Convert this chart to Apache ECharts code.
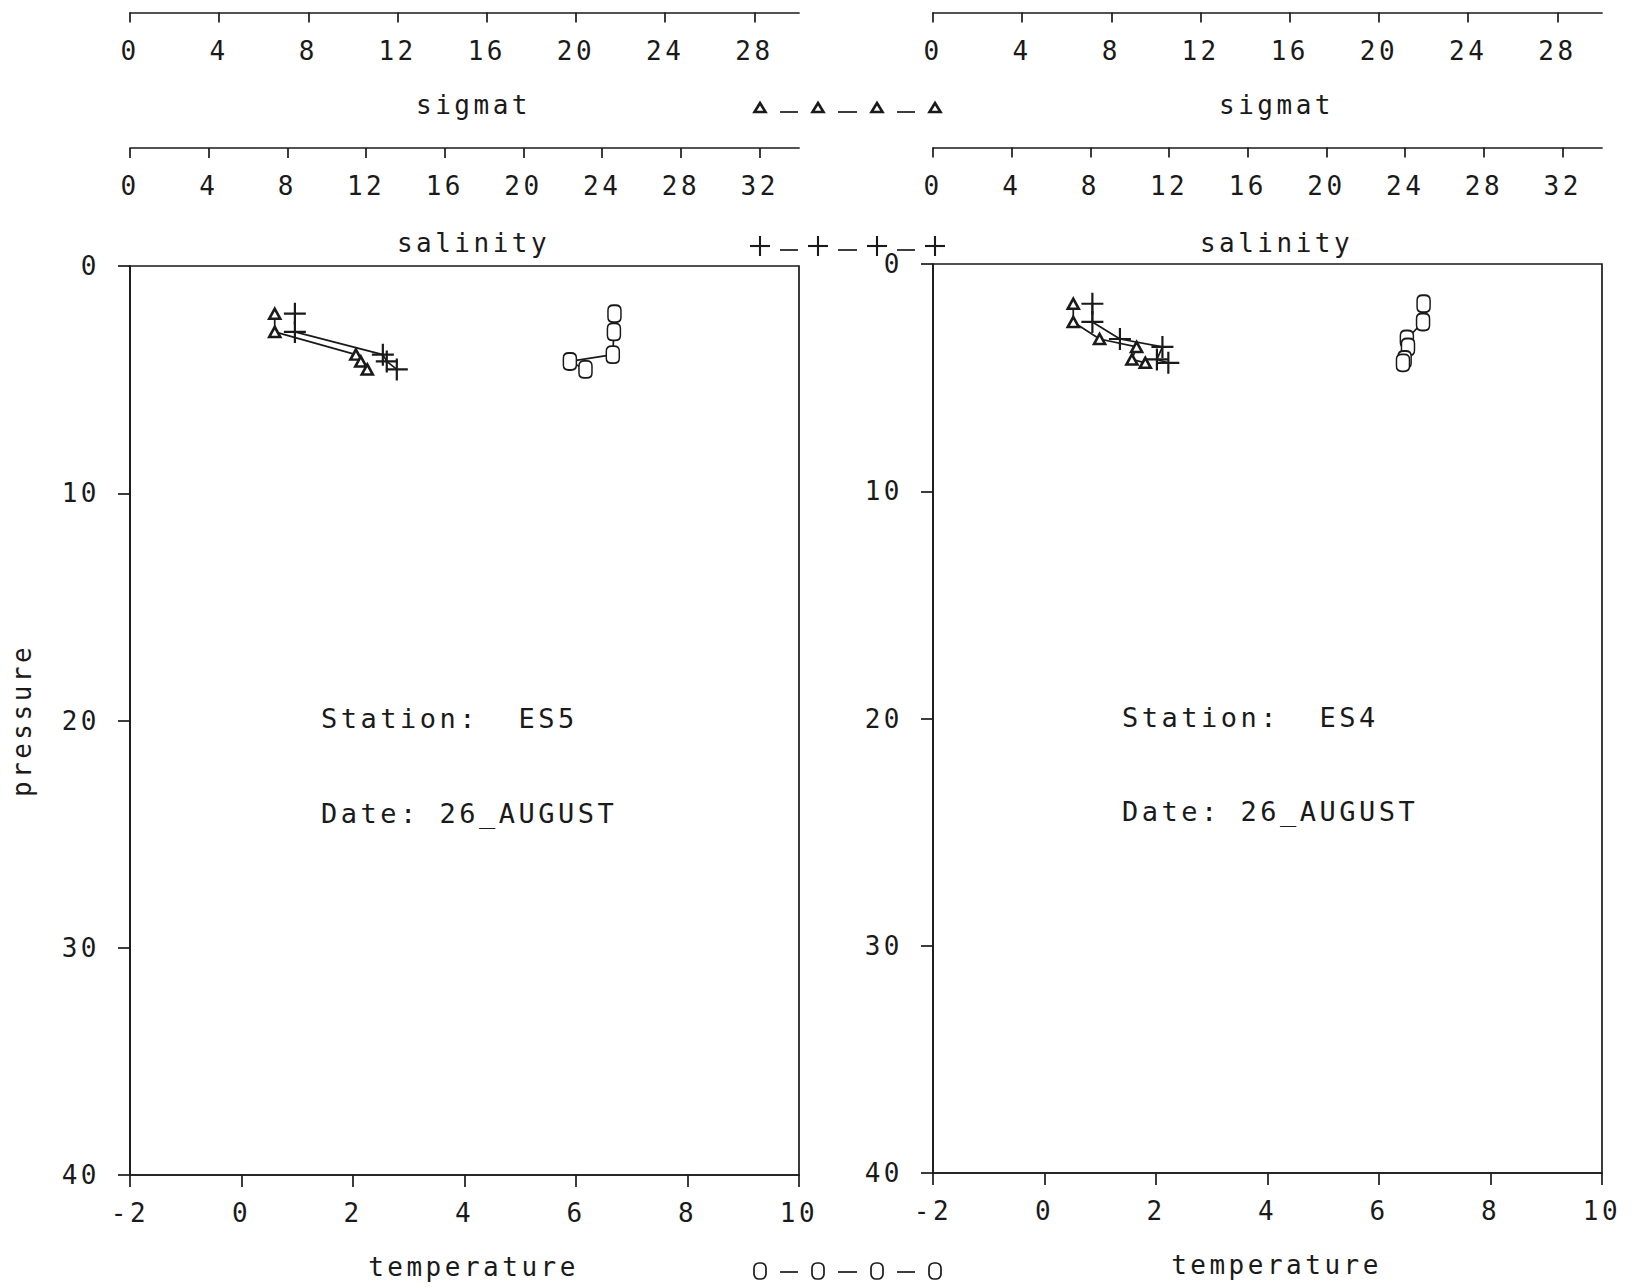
<!DOCTYPE html>
<html><head><meta charset="utf-8">
<script src="https://cdn.jsdelivr.net/npm/echarts@6/dist/echarts.min.js"></script>
<style>
html,body{margin:0;padding:0;background:#fff;}
#c{width:1632px;height:1287px;letter-spacing:3.5px;}
</style></head><body><div id="c"></div>
<script>
// ---------------- data ----------------
const stations = ['ES5', 'ES4'];
const dateLabel = '26_AUGUST';

const pressureES5    = [2.1, 2.9, 3.9, 4.2, 4.55];
const temperatureES5 = [6.69, 6.68, 6.66, 5.89, 6.17];
const salinityES5    = [8.38, 8.38, 12.85, 13.05, 13.56];
const sigmatES5      = [6.49, 6.49, 10.13, 10.35, 10.64];

const pressureES4    = [1.75, 2.55, 3.3, 3.65, 4.2, 4.35];
const temperatureES4 = [6.80, 6.79, 6.50, 6.52, 6.46, 6.43];
const salinityES4    = [8.10, 8.10, 9.50, 11.66, 11.38, 11.96];
const sigmatES4      = [6.29, 6.29, 7.47, 9.13, 8.92, 9.52];

const temperatureTicks = [-2, 0, 2, 4, 6, 8, 10];
const sigmatTicks      = [0, 4, 8, 12, 16, 20, 24, 28];
const salinityTicks    = [0, 4, 8, 12, 16, 20, 24, 28, 32];
const pressureTicks    = [0, 10, 20, 30, 40];

// ---------------- styling ----------------
const FONT = 'DejaVu Sans Mono';
const INK = '#1a1a1a';
const LW = 1.7;
const PLUS = 'path://M0,4.5H10V5.5H0Z M4.5,0H5.5V10H4.5Z';
const OH = 'path://M5,0H7Q12,0 12,5V12Q12,17 7,17H5Q0,17 0,12V5Q0,0 5,0Z';

const panels = [
  { grid: {left: 130, top: 266, width: 669, height: 909}, sigOff: 253.5, salOff: 118,
    p: pressureES5, t: temperatureES5, s: salinityES5, g: sigmatES5, station: stations[0],
    tx: 321, sy: 718, dy: 813, pressureName: true },
  { grid: {left: 933, top: 264, width: 669, height: 909}, sigOff: 251.5, salOff: 116.5,
    p: pressureES4, t: temperatureES4, s: salinityES4, g: sigmatES4, station: stations[1],
    tx: 1122, sy: 717, dy: 811, pressureName: false }
];

function labelStyle(extra) {
  return Object.assign({fontFamily: FONT, fontSize: 26, color: INK}, extra || {});
}
function nameStyle() {
  return {fontFamily: FONT, fontSize: 26, color: INK, padding: [0, 0, 0, 18]};
}

const grids = [], xAxes = [], yAxes = [], series = [], graphics = [];

panels.forEach((P, i) => {
  grids.push(Object.assign({show: true, borderColor: INK, borderWidth: LW,
    backgroundColor: 'transparent', containLabel: false, outerBoundsMode: 'none'}, P.grid));

  const base = xAxes.length;
  // temperature (bottom)
  xAxes.push({
    type: 'value', gridIndex: i, position: 'bottom', min: -2, max: 10, interval: 2,
    name: 'temperature', nameLocation: 'middle', nameGap: 79, nameTextStyle: nameStyle(),
    nameMoveOverlap: false,
    axisLine: {show: true, onZero: false, lineStyle: {color: INK, width: LW}},
    axisTick: {show: true, inside: false, length: 12, lineStyle: {color: INK, width: LW}, customValues: temperatureTicks},
    axisLabel: labelStyle({margin: 25, customValues: temperatureTicks}),
    splitLine: {show: false}
  });
  // sigmat (top, offset)
  xAxes.push({
    type: 'value', gridIndex: i, position: 'top', offset: P.sigOff, min: 0, max: 30,
    name: 'sigmat', nameLocation: 'middle', nameGap: -105, nameTextStyle: nameStyle(),
    nameMoveOverlap: false,
    axisLine: {show: true, onZero: false, lineStyle: {color: INK, width: LW}},
    axisTick: {show: true, inside: true, length: 10, lineStyle: {color: INK, width: LW}, customValues: sigmatTicks},
    axisLabel: labelStyle({inside: true, margin: 25, customValues: sigmatTicks}),
    splitLine: {show: false}
  });
  // salinity (top, offset)
  xAxes.push({
    type: 'value', gridIndex: i, position: 'top', offset: P.salOff, min: 0, max: 34,
    name: 'salinity', nameLocation: 'middle', nameGap: -108, nameTextStyle: nameStyle(),
    nameMoveOverlap: false,
    axisLine: {show: true, onZero: false, lineStyle: {color: INK, width: LW}},
    axisTick: {show: true, inside: true, length: 10, lineStyle: {color: INK, width: LW}, customValues: salinityTicks},
    axisLabel: labelStyle({inside: true, margin: 25, customValues: salinityTicks}),
    splitLine: {show: false}
  });

  yAxes.push({
    type: 'value', gridIndex: i, position: 'left', inverse: true, min: 0, max: 40, interval: 10,
    name: P.pressureName ? 'pressure' : '', nameLocation: 'middle', nameGap: 95, nameRotate: 90,
    nameTextStyle: {fontFamily: FONT, fontSize: 26, color: INK}, nameMoveOverlap: false,
    axisLine: {show: true, onZero: false, lineStyle: {color: INK, width: LW}},
    axisTick: {show: true, inside: false, length: 12, lineStyle: {color: INK, width: LW}, customValues: pressureTicks},
    axisLabel: labelStyle({margin: 30, customValues: pressureTicks}),
    splitLine: {show: false}
  });

  const common = {type: 'line', yAxisIndex: i, showSymbol: true, animation: false,
    lineStyle: {color: INK, width: LW}, emphasis: {disabled: true}, clip: false};

  series.push(Object.assign({}, common, {
    name: 'temperature', xAxisIndex: base, symbol: OH, symbolSize: [13, 17],
    itemStyle: {color: '#fff', borderColor: INK, borderWidth: 1.7},
    data: P.t.map((v, k) => [v, P.p[k]])
  }));
  series.push(Object.assign({}, common, {
    name: 'sigmat', xAxisIndex: base + 1, symbol: 'triangle', symbolSize: [11, 10],
    itemStyle: {color: '#fff', borderColor: INK, borderWidth: 2.6},
    data: P.g.map((v, k) => [v, P.p[k]])
  }));
  series.push(Object.assign({}, common, {
    name: 'salinity', xAxisIndex: base + 2, symbol: PLUS, symbolSize: 22,
    itemStyle: {color: INK},
    data: P.s.map((v, k) => [v, P.p[k]])
  }));

  graphics.push({type: 'text', x: P.tx, y: P.sy,
    style: {text: 'Station:  ' + P.station, font: '27px "' + FONT + '"', fill: INK, align: 'left', verticalAlign: 'middle'}});
  graphics.push({type: 'text', x: P.tx, y: P.dy,
    style: {text: 'Date: ' + dateLabel, font: '27px "' + FONT + '"', fill: INK, align: 'left', verticalAlign: 'middle'}});
});

// ---- legend keys between the panels ----
const keyX = [760, 818, 877, 935];
function keyRow(kind, y, dashDy) {
  keyX.forEach((x, k) => {
    if (k > 0) {
      graphics.push({type: 'line', shape: {x1: keyX[k - 1] + 20, y1: y + dashDy, x2: x - 20, y2: y + dashDy},
        style: {stroke: INK, lineWidth: LW}});
    }
    if (kind === 'tri') {
      graphics.push({type: 'polygon', shape: {points: [[x, y - 5], [x + 5.5, y + 4], [x - 5.5, y + 4]]},
        style: {fill: '#fff', stroke: INK, lineWidth: 2.6}});
    } else if (kind === 'plus') {
      graphics.push({type: 'line', shape: {x1: x - 10, y1: y, x2: x + 10, y2: y}, style: {stroke: INK, lineWidth: LW + 0.4}});
      graphics.push({type: 'line', shape: {x1: x, y1: y - 10, x2: x, y2: y + 10}, style: {stroke: INK, lineWidth: LW + 0.4}});
    } else {
      graphics.push({type: 'rect', shape: {x: x - 6, y: y - 8, width: 12, height: 16, r: 5},
        style: {fill: '#fff', stroke: INK, lineWidth: LW}});
    }
  });
}
keyRow('tri', 108, 4);
keyRow('plus', 246, 4);
keyRow('oh', 1271, 1);

const option = {
  backgroundColor: '#fff',
  animation: false,
  textStyle: {fontFamily: FONT},
  grid: grids,
  xAxis: xAxes,
  yAxis: yAxes,
  series: series,
  graphic: graphics
};

const chart = echarts.init(document.getElementById('c'), null, {renderer: 'svg'});
chart.setOption(option);
</script>
</body></html>
